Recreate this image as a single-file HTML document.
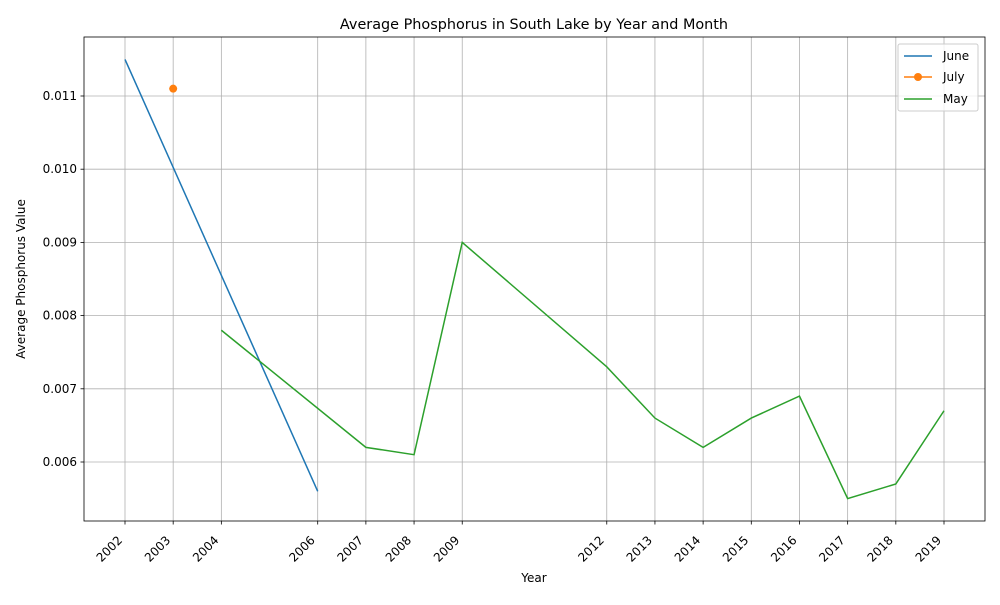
<!DOCTYPE html>
<html><head><meta charset="utf-8"><style>
body{margin:0;background:#fff;font-family:"Liberation Sans","DejaVu Sans",sans-serif;}
svg text{font-family:"DejaVu Sans","Liberation Sans",sans-serif;}
</style></head><body>
<svg id="chart" width="1000" height="600" xmlns="http://www.w3.org/2000/svg"></svg>
<script>
const tickYears = [2002,2003,2004,2006,2007,2008,2009,2012,2013,2014,2015,2016,2017,2018,2019];
const yTicks = [0.006,0.007,0.008,0.009,0.010,0.011];
const juneYears = [2002,2006];
const juneValues = [0.0115,0.0056];
const julyYears = [2003];
const julyValues = [0.0111];
const mayYears = [2004,2007,2008,2009,2012,2013,2014,2015,2016,2017,2018,2019];
const mayValues = [0.0078,0.0062,0.0061,0.0090,0.0073,0.0066,0.0062,0.0066,0.0069,0.0055,0.0057,0.0067];

const L=84,R=985,T=37,B=521;
const xMin=2001.149,xMax=2019.851,yMin=0.005194,yMax=0.011806;
const sx=v=>L+(v-xMin)/(xMax-xMin)*(R-L);
const sy=v=>B-(v-yMin)/(yMax-yMin)*(B-T);
const svg=document.getElementById('chart');
const NS='http://www.w3.org/2000/svg';
function mk(tag,attrs,parent){const e=document.createElementNS(NS,tag);for(const k in attrs)e.setAttribute(k,attrs[k]);(parent||svg).appendChild(e);return e;}

tickYears.forEach(y=>{
  const x=sx(y);
  const g=mk('line',{x1:x,x2:x,y1:T,y2:B,stroke:'#b0b0b0','stroke-width':0.8});
  
  
  mk('line',{x1:x,x2:x,y1:B,y2:B+3.5,stroke:'#000','stroke-width':0.8});
  const t=mk('text',{x:x-2,y:B+20,'font-size':12,'text-anchor':'end',transform:`rotate(-45 ${x-2} ${B+20})`});
  t.textContent=y;
  
  
});
yTicks.forEach(v=>{
  const y=sy(v);
  const g=mk('line',{x1:L,x2:R,y1:y,y2:y,stroke:'#b0b0b0','stroke-width':0.8});
  
  
  mk('line',{x1:L-3.5,x2:L,y1:y,y2:y,stroke:'#000','stroke-width':0.8});
  const t=mk('text',{x:L-7,y:y+4,'font-size':12,'text-anchor':'end'});
  t.textContent=v.toFixed(3);
  
  
});
function series(xs,vs,color,name){
  const p=mk('polyline',{points:xs.map((x,i)=>sx(x)+','+sy(vs[i])).join(' '),fill:'none',stroke:color,'stroke-width':1.5});
  
  
}
series(juneYears,juneValues,'#1f77b4','june-line');
series(mayYears,mayValues,'#2ca02c','may-line');
julyYears.forEach((x,i)=>{
  const c=mk('circle',{cx:sx(x),cy:sy(julyValues[i]),r:4,fill:'#ff7f0e'});
  
  
});
const fr=mk('rect',{x:L,y:T,width:R-L,height:B-T,fill:'none',stroke:'#000','stroke-width':0.8});


</script>
<svg style="position:absolute;left:0;top:0" width="1000" height="600" xmlns="http://www.w3.org/2000/svg">
<text x="534" y="29" font-size="14.4" text-anchor="middle">Average Phosphorus in South Lake by Year and Month</text>
<text x="534" y="582" font-size="12" text-anchor="middle">Year</text>
<text x="25" y="279" font-size="12" text-anchor="middle" transform="rotate(-90 25 279)">Average Phosphorus Value</text>
<g>
<rect x="898" y="44" width="80" height="67" rx="2" fill="#fff" fill-opacity="0.8" stroke="#ccc"/>
<g><line x1="904" x2="932" y1="56" y2="56" stroke="#1f77b4" stroke-width="1.5"/><text x="943" y="60" font-size="12">June</text></g>
<g><line x1="904" x2="932" y1="77" y2="77" stroke="#ff7f0e" stroke-width="1.5"/><circle cx="918" cy="77" r="4" fill="#ff7f0e"/><text x="943" y="81" font-size="12">July</text></g>
<g><line x1="904" x2="932" y1="99" y2="99" stroke="#2ca02c" stroke-width="1.5"/><text x="943" y="103" font-size="12">May</text></g>
</g>
</svg>
</body></html>
